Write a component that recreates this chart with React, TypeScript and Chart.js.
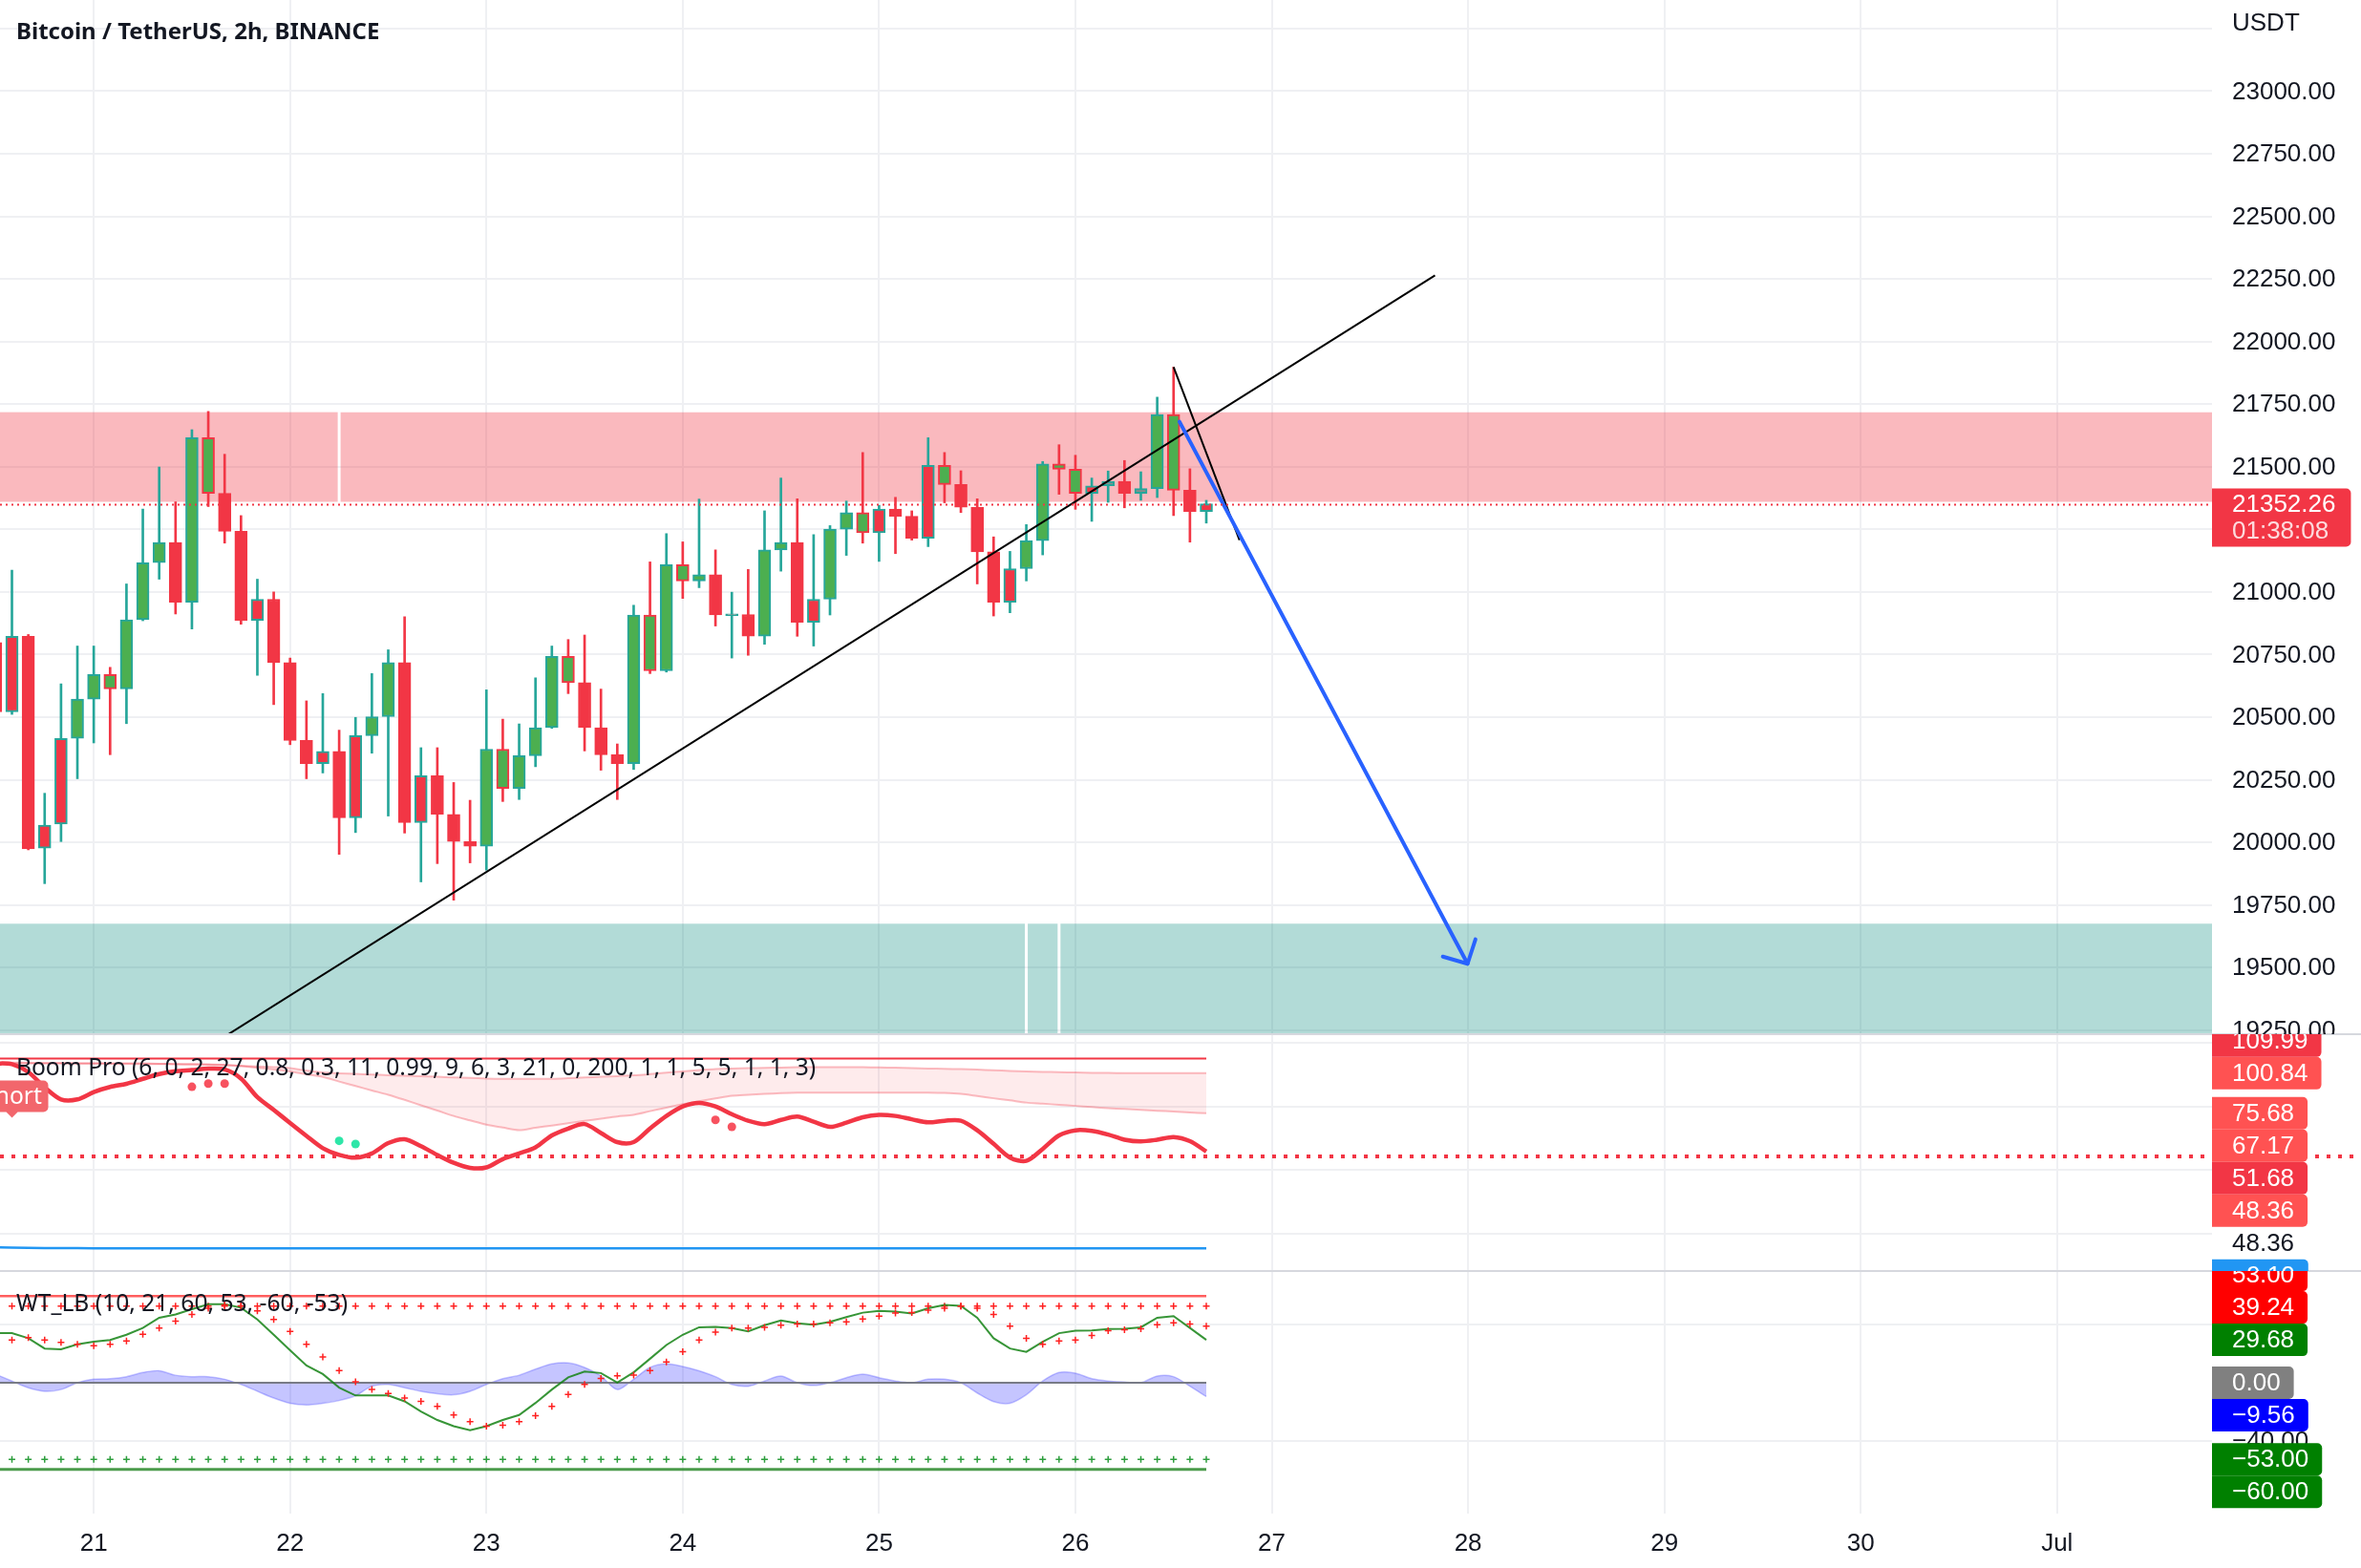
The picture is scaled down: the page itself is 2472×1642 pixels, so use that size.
import React, { useEffect, useRef } from 'react';
import { Chart, registerables } from 'chart.js';

Chart.register(...registerables);

const W = 2472;
const H = 1642;

// ---------- layout (pixels) ----------
const PLOT_RIGHT = 2316;
const PLOT_BOTTOM = 1585;
const PANE_MAIN = { top: 0, bottom: 1083 };
const PANE_BOOM = { top: 1083, bottom: 1331 };
const PANE_WT = { top: 1331, bottom: 1585 };

// ---------- data ----------
// 2h candles, index 0 = 20 Jun 12:00
const opens = [20798, 20521, 20823, 19977, 20073, 20415, 20572, 20670, 20613, 20889,
  21117, 21198, 20959, 21616, 21394, 21242, 20886, 20971, 20718, 20407,
  20314, 20363, 20098, 20426, 20502, 20718, 20079, 20266, 20112, 20003,
  19984, 20372, 20215, 20346, 20458, 20743, 20638, 20458, 20350, 20314,
  20908, 20685, 21109, 21044, 21069, 20905, 20910, 20823, 21168, 21198,
  20879, 20971, 21251, 21317, 21236, 21331, 21302, 21214, 21506, 21429,
  21338, 21160, 20959, 21093, 21205, 21511, 21490, 21394, 21424, 21442,
  21394, 21413, 21709, 21406, 21321];
const highs = [20850, 21087, 20830, 20196, 20633, 20784, 20784, 20699, 21032, 21331,
  21499, 21360, 21648, 21721, 21550, 21305, 21051, 21000, 20736, 20565,
  20594, 20448, 20499, 20674, 20769, 20901, 20378, 20378, 20239, 20168,
  20609, 20492, 20473, 20657, 20784, 20810, 20828, 20612, 20393, 20947,
  21120, 21233, 21200, 21371, 21168, 20999, 21090, 21324, 21455, 21372,
  21229, 21265, 21363, 21557, 21346, 21378, 21324, 21616, 21557, 21484,
  21372, 21220, 21162, 21269, 21521, 21588, 21546, 21455, 21483, 21525,
  21480, 21778, 21898, 21492, 21366];
const lows = [20480, 20511, 19970, 19835, 20003, 20254, 20397, 20350, 20474, 20885,
  21051, 20912, 20852, 21341, 21195, 20871, 20667, 20550, 20390, 20254,
  20277, 19952, 20039, 20356, 20105, 20037, 19842, 19915, 19769, 19918,
  19889, 20163, 20171, 20302, 20455, 20594, 20365, 20288, 20171, 20291,
  20674, 20680, 20974, 21017, 20864, 20736, 20747, 20791, 21083, 20823,
  20784, 20908, 21146, 21195, 21122, 21153, 21207, 21181, 21356, 21317,
  21032, 20904, 20917, 21044, 21148, 21390, 21330, 21282, 21358, 21336,
  21366, 21377, 21305, 21199, 21275];
const closes = [20521, 20823, 19974, 20069, 20415, 20572, 20670, 20613, 20889, 21117,
  21198, 20959, 21616, 21394, 21242, 20886, 20971, 20718, 20407, 20314,
  20363, 20098, 20426, 20502, 20718, 20079, 20266, 20112, 20003, 19984,
  20372, 20215, 20346, 20458, 20743, 20638, 20458, 20350, 20314, 20908,
  20685, 21109, 21044, 21069, 20908, 20910, 20823, 21168, 21198, 20879,
  20971, 21251, 21317, 21236, 21331, 21302, 21214, 21506, 21429, 21338,
  21160, 20959, 21093, 21205, 21511, 21490, 21394, 21424, 21442, 21394,
  21413, 21709, 21406, 21321, 21352.26];
// bar colouring from the indicator: G green, R red, N neutral
const barTone = ['R', 'R', 'R', 'R', 'R', 'G', 'G', 'G', 'G', 'G',
  'G', 'R', 'G', 'G', 'R', 'R', 'R', 'R', 'R', 'R',
  'R', 'R', 'R', 'G', 'G', 'R', 'R', 'R', 'R', 'R',
  'G', 'G', 'G', 'G', 'G', 'G', 'R', 'R', 'R', 'G',
  'G', 'G', 'G', 'G', 'R', 'N', 'R', 'G', 'G', 'R',
  'R', 'G', 'G', 'G', 'R', 'R', 'R', 'R', 'G', 'R',
  'R', 'R', 'R', 'G', 'G', 'G', 'G', 'R', 'N', 'R',
  'N', 'G', 'G', 'R', 'R'];

// Boom Pro pane
const boomOsc = [107, 106.5, 101.5, 92, 84.4, 84.4, 89, 92.2, 94.2, 97.3,
  100.3, 102.1, 102.8, 103.7, 103.2, 97.5, 85.8, 77.8, 69.6, 61.5,
  53.8, 49.6, 47.8, 50.5, 57, 59.4, 55, 49.5, 44.6, 41.4,
  41.7, 46.9, 50.5, 54.3, 61.8, 66.1, 68.9, 63.3, 57.6, 57.6,
  66.1, 74.0, 80.0, 82.2, 80.0, 75.1, 71.0, 68.9, 71.5, 73.6,
  70.4, 67.2, 69.8, 73.2, 74.7, 74.0, 71.9, 70.0, 71.0, 71.0,
  65.0, 56.5, 47.9, 45.8, 53.3, 61.8, 65.0, 64.6, 62.3, 59.1,
  58.0, 59.1, 60.8, 58.2, 51.68];
const cloudUpper = [107.5, 107.5, 107.4, 107.3, 107.3, 107.2, 107.2, 107.1, 107.1, 107.0,
  106.8, 106.6, 106.4, 106.2, 105.9, 105.5, 105.1, 104.7, 104.1, 102.5,
  101.3, 100.8, 100.4, 100.0, 99.6, 99.2, 98.9, 98.6, 98.2, 97.9,
  97.5, 97.3, 97.3, 97.3, 97.3, 97.7, 98.2, 98.6, 99.0, 99.5,
  100.3, 101.2, 102.0, 102.8, 103.5, 103.8, 104.0, 104.2, 104.4, 104.6,
  104.6, 104.6, 104.6, 104.6, 104.5, 104.3, 104.1, 103.8, 103.6, 103.4,
  103.1, 102.7, 102.3, 101.9, 101.7, 101.5, 101.3, 101.1, 101.0, 100.95,
  100.9, 100.9, 100.88, 100.86, 100.84];
const cloudLower = [107, 107, 107, 106.9, 106.9, 106.8, 106.8, 106.7, 106.7, 106.6,
  106.6, 106.5, 106.5, 106.4, 106.2, 105.3, 104.2, 103.2, 102.0, 100.1,
  98.5, 95.6, 92.8, 90.0, 87.3, 84.1, 80.7, 77.4, 74.0, 71.2,
  68.5, 66.7, 65.1, 66.6, 68.0, 69.5, 70.9, 72.3, 73.7, 74.7,
  77.0, 79.2, 81.4, 83.2, 85.0, 86.7, 87.3, 87.8, 88.3, 88.6,
  88.6, 88.6, 88.6, 88.6, 88.6, 88.6, 88.6, 88.6, 88.4, 87.8,
  86.5, 85.1, 83.8, 82.4, 81.7, 81.0, 80.3, 79.6, 78.9, 78.4,
  77.8, 77.3, 76.8, 76.2, 75.68];
const boomBlue = [-8.4, -8.6, -8.8, -8.9, -9.0, -9.0, -9.1, -9.1, -9.1, -9.1,
  -9.1, -9.1, -9.1, -9.1, -9.1, -9.1, -9.1, -9.1, -9.1, -9.1,
  -9.1, -9.1, -9.1, -9.1, -9.1, -9.1, -9.1, -9.1, -9.1, -9.1,
  -9.1, -9.1, -9.1, -9.1, -9.1, -9.1, -9.1, -9.1, -9.1, -9.1,
  -9.1, -9.1, -9.1, -9.1, -9.1, -9.1, -9.1, -9.1, -9.1, -9.1,
  -9.1, -9.1, -9.1, -9.1, -9.1, -9.1, -9.1, -9.1, -9.1, -9.1,
  -9.1, -9.1, -9.1, -9.1, -9.1, -9.1, -9.1, -9.1, -9.1, -9.1,
  -9.1, -9.1, -9.1, -9.1, -9.1];
const boomRedDotIdx = [12, 13, 14, 44, 45];
const boomRedDotVal = [92.3, 94.3, 94.3, 71.5, 67.2];
const boomTealDotIdx = [21, 22];
const boomTealDotVal = [58.4, 56.4];
const boomTopLevel = 109.99;
const boomMidLevel = 48.36;
const boomHiddenValue = 67.17;
const boomGrid = [120, 80, 40, 0];

// WT_LB pane
const wt1 = [34.3, 34.3, 30.8, 23.7, 23.2, 26.6, 28.4, 29.6, 33.2, 37.9,
  45.0, 47.3, 50.9, 54.4, 54.4, 52.0, 43.8, 33.2, 22.5, 11.9,
  6.0, -3.4, -8.8, -8.8, -8.8, -12.9, -19.9, -25.8, -30.1, -32.9,
  -30.1, -25.8, -22.3, -14.0, -4.7, 3.7, 7.7, 6.7, 0.1, 7.2,
  16.6, 26.1, 33.2, 38.4, 38.6, 37.9, 35.5, 39.8, 43.1, 41.2,
  40.2, 42.1, 45.4, 48.5, 49.7, 49.2, 48.0, 51.6, 53.9, 53.2,
  45.0, 30.8, 23.7, 21.4, 28.4, 34.3, 36.0, 36.2, 37.2, 37.4,
  38.4, 45.0, 46.1, 37.9, 29.68];
const wt2 = [29.6, 29.6, 31.3, 29.6, 28.0, 26.6, 25.6, 26.6, 28.9, 33.6,
  37.9, 42.6, 47.3, 51.6, 53.9, 53.2, 49.7, 43.8, 35.5, 26.6,
  17.8, 8.4, 0.6, -4.6, -7.4, -10.5, -12.9, -16.4, -22.3, -27.0,
  -30.1, -29.4, -27.0, -22.8, -16.4, -8.1, -1.1, 2.9, 4.8, 5.3,
  8.4, 14.3, 21.4, 29.6, 35.0, 37.9, 37.9, 38.4, 39.8, 40.7,
  40.7, 41.4, 42.1, 44.2, 46.1, 48.3, 48.5, 50.2, 51.6, 53.0,
  51.6, 47.3, 39.1, 30.8, 26.6, 28.9, 29.6, 32.7, 36.0, 36.7,
  37.4, 40.2, 41.4, 40.7, 39.24];
const wtDiff = [5.9, 1.2, -3.5, -5.9, -4.7, 0, 2.4, 2.8, 4.2, 7.1,
  8.3, 5.2, 4.2, 4.2, 2.4, -1.2, -5.9, -10.6, -14.2, -15.3,
  -14.2, -12.3, -9.0, -2.4, -1.2, -3.5, -5.9, -7.6, -8.3, -5.9,
  -1.2, 2.8, 5.2, 9.4, 13.0, 13.7, 10.6, 4.7, -4.7, 2.4,
  10.6, 13.0, 11.3, 8.3, 4.2, -1.2, -2.4, 1.2, 4.7, 0,
  -1.9, 0, 3.5, 5.9, 3.5, 1.2, 0, 2.4, 2.4, 0,
  -7.1, -13.0, -14.2, -8.3, 1.2, 7.1, 6.6, 2.8, 1.2, 0.5,
  0, 4.7, 4.2, -2.4, -9.56];
const wtLevels = [60, 53, -53, -60];
const wtGrid = [40, -40];
const wtAxisTicks = [-40];

// axes
const dayLabels = ['21', '22', '23', '24', '25', '26', '27', '28', '29', '30', 'Jul'];
const dayIndex = [6, 18, 30, 42, 54, 66, 78, 90, 102, 114, 126];
const priceTicks = [23000, 22750, 22500, 22250, 22000, 21750, 21500, 21250, 21000,
  20750, 20500, 20250, 20000, 19750, 19500, 19250];
const priceGrid = [23250, ...priceTicks];
const xRange = [0.27, 135.47];
const priceRange = [19233.7, 23364.2];
const boomRange = [-23.34, 125.34];
const wtRange = [-90.55, 77.33];

// drawings
const resistZone = { top: 21718, bottom: 21360, breaks: [21] };
const supportZone = { top: 19675, bottom: 19100, breaks: [63, 65] };
const trendLine = { k1: 14.07, p1: 19227, k2: 87.98, p2: 22264 };
const wedgeLine = { k1: 72.0, p1: 21898, k2: 76.03, p2: 21207 };
const targetArrow = { k1: 72.36, p1: 21680, k2: 89.97, p2: 19515 };
const countdown = '01:38:08';
const shortSignalIdx = 1;

// ---------- colours ----------
const TEAL = '#26a69a';
const RED = '#f23645';
const GREEN = '#4caf50';
const GRAY = '#8c8c8c';
const TEXT = '#131722';
const GRID = '#eff0f3';

const AXIS_FONT = '26px "Liberation Sans", Arial, sans-serif';
const LEGEND_FONT = '24.6px "Noto Sans", sans-serif';
const TITLE_FONT = 'bold 24px "Noto Sans", sans-serif';

function fullRange(range: number[], pane: { top: number; bottom: number }) {
  const per = (range[1] - range[0]) / (pane.bottom - pane.top);
  return { min: range[0] - (PLOT_BOTTOM - pane.bottom) * per, max: range[1] + pane.top * per };
}

function fmt(v: number) {
  const s = v.toFixed(2);
  return s.startsWith('-') ? '\u2212' + s.slice(1) : s;
}

function stackLabels(reals: number[], h: number) {
  const placed: number[] = [];
  return reals.map((r) => {
    const cands = [r];
    placed.forEach((p) => cands.push(p - h, p + h));
    let best = r;
    let bd = Infinity;
    for (const c of cands) {
      if (placed.every((p) => Math.abs(p - c) >= h - 0.01)) {
        const d = Math.abs(c - r);
        if (d < bd) { bd = d; best = c; }
      }
    }
    placed.push(best);
    return best;
  });
}

function roundRight(ctx: CanvasRenderingContext2D, x: number, y: number, w: number, h: number, r: number) {
  ctx.beginPath();
  ctx.moveTo(x, y);
  ctx.lineTo(x + w - r, y);
  ctx.arcTo(x + w, y, x + w, y + r, r);
  ctx.lineTo(x + w, y + h - r);
  ctx.arcTo(x + w, y + h, x + w - r, y + h, r);
  ctx.lineTo(x, y + h);
  ctx.closePath();
}

export default function App() {
  const ref = useRef<HTMLCanvasElement>(null);

  useEffect(() => {
    const canvas = ref.current;
    if (!canvas) return;
    const ix = closes.map((_, i) => i);
    const edge = ix.map((i) => (closes[i] >= opens[i] ? TEAL : RED));
    const fillC = barTone.map((t) => (t === 'G' ? GREEN : t === 'R' ? RED : GRAY));
    const series = (arr: number[]) => arr.map((v, i) => ({ x: i, y: v }));
    const level = (v: number) => ix.map((i) => ({ x: i, y: v }));
    const line = (extra: any) => ({ type: 'line', pointRadius: 0, borderWidth: 2, fill: false, tension: 0, ...extra });

    const yMain = fullRange(priceRange, PANE_MAIN);
    const yBoom = fullRange(boomRange, PANE_BOOM);
    const yWt = fullRange(wtRange, PANE_WT);

    const tvPlugin = {
      id: 'tvPanes',
      beforeDraw(chart: any) {
        const ctx = chart.ctx;
        ctx.save();
        ctx.fillStyle = '#ffffff';
        ctx.fillRect(0, 0, W, H);
        ctx.restore();
      },
      beforeDatasetsDraw(chart: any) {
        const ctx: CanvasRenderingContext2D = chart.ctx;
        const sx = chart.scales.x, sy = chart.scales.y, sb = chart.scales.yB, sw = chart.scales.yW;
        ctx.save();
        ctx.strokeStyle = GRID;
        ctx.lineWidth = 2;
        dayIndex.forEach((d) => {
          const x = Math.round(sx.getPixelForValue(d));
          ctx.beginPath(); ctx.moveTo(x, 0); ctx.lineTo(x, PLOT_BOTTOM); ctx.stroke();
        });
        const hline = (y: number, pane: any) => {
          if (y < pane.top || y > pane.bottom) return;
          ctx.beginPath(); ctx.moveTo(0, Math.round(y)); ctx.lineTo(PLOT_RIGHT, Math.round(y)); ctx.stroke();
        };
        priceGrid.forEach((p) => hline(sy.getPixelForValue(p), PANE_MAIN));
        boomGrid.forEach((v) => hline(sb.getPixelForValue(v), PANE_BOOM));
        wtGrid.forEach((v) => hline(sw.getPixelForValue(v), PANE_WT));

        // zones
        ctx.beginPath();
        ctx.rect(0, PANE_MAIN.top, PLOT_RIGHT, PANE_MAIN.bottom - PANE_MAIN.top);
        ctx.clip();
        const zone = (z: any, color: string) => {
          const yt = sy.getPixelForValue(z.top);
          const yb = sy.getPixelForValue(z.bottom);
          const edges = [-1e4, ...z.breaks.map((k: number) => sx.getPixelForValue(k)), 1e5];
          ctx.fillStyle = color;
          for (let i = 0; i < edges.length - 1; i++) {
            const x0 = edges[i] + (i > 0 ? 1.5 : 0);
            const x1 = edges[i + 1] - (i < edges.length - 2 ? 1.5 : 0);
            ctx.fillRect(x0, yt, x1 - x0, yb - yt);
          }
        };
        zone(resistZone, 'rgba(242,54,69,0.35)');
        zone(supportZone, 'rgba(0,137,123,0.3)');
        ctx.restore();
      },
      afterDatasetsDraw(chart: any) {
        const ctx: CanvasRenderingContext2D = chart.ctx;
        const sx = chart.scales.x, sy = chart.scales.y, sb = chart.scales.yB, sw = chart.scales.yW;
        const P = (k: number, p: number) => [sx.getPixelForValue(k), sy.getPixelForValue(p)];

        // drawings in main pane
        ctx.save();
        ctx.beginPath();
        ctx.rect(0, PANE_MAIN.top, PLOT_RIGHT, PANE_MAIN.bottom - PANE_MAIN.top);
        ctx.clip();
        ctx.strokeStyle = '#000000';
        ctx.lineWidth = 2;
        [trendLine, wedgeLine].forEach((l) => {
          const [x1, y1] = P(l.k1, l.p1);
          const [x2, y2] = P(l.k2, l.p2);
          ctx.beginPath(); ctx.moveTo(x1, y1); ctx.lineTo(x2, y2); ctx.stroke();
        });
        {
          const [x1, y1] = P(targetArrow.k1, targetArrow.p1);
          const [x2, y2] = P(targetArrow.k2, targetArrow.p2);
          ctx.strokeStyle = '#2962ff';
          ctx.lineWidth = 4;
          ctx.lineCap = 'round';
          ctx.lineJoin = 'round';
          ctx.beginPath(); ctx.moveTo(x1, y1); ctx.lineTo(x2, y2); ctx.stroke();
          const ang = Math.atan2(y2 - y1, x2 - x1);
          const L = 27, s = 0.8;
          ctx.beginPath();
          ctx.moveTo(x2 - L * Math.cos(ang - s), y2 - L * Math.sin(ang - s));
          ctx.lineTo(x2, y2);
          ctx.lineTo(x2 - L * Math.cos(ang + s), y2 - L * Math.sin(ang + s));
          ctx.stroke();
        }
        ctx.restore();

        // last price dotted line
        const last = closes[closes.length - 1];
        const yLast = Math.round(sy.getPixelForValue(last)) + 0.5;
        ctx.save();
        ctx.strokeStyle = RED;
        ctx.lineWidth = 2;
        ctx.setLineDash([2, 4]);
        ctx.beginPath(); ctx.moveTo(0, yLast); ctx.lineTo(PLOT_RIGHT, yLast); ctx.stroke();
        // boom dotted level
        const yMid = Math.round(sb.getPixelForValue(boomMidLevel));
        ctx.lineWidth = 4;
        ctx.setLineDash([4, 8]);
        ctx.beginPath(); ctx.moveTo(0, yMid); ctx.lineTo(W, yMid); ctx.stroke();
        ctx.restore();

        // pane separators
        ctx.save();
        ctx.strokeStyle = '#d6d8de';
        ctx.lineWidth = 2;
        [PANE_BOOM.top, PANE_WT.top].forEach((y) => {
          ctx.beginPath(); ctx.moveTo(0, y); ctx.lineTo(W, y); ctx.stroke();
        });
        ctx.restore();

        // legends
        ctx.save();
        ctx.fillStyle = TEXT;
        ctx.textBaseline = 'alphabetic';
        ctx.textAlign = 'left';
        ctx.font = TITLE_FONT;
        ctx.fillText('Bitcoin / TetherUS, 2h, BINANCE', 17, 41);
        ctx.font = LEGEND_FONT;
        ctx.fillText('Boom Pro (6, 0, 2, 27, 0.8, 0.3, 11, 0.99, 9, 6, 3, 21, 0, 200, 1, 1, 5, 5, 1, 1, 3)', 17, 1126);
        ctx.fillText('WT_LB (10, 21, 60, 53, -60, -53)', 17, 1373);
        ctx.restore();

        // Short signal label
        ctx.save();
        {
          const cx = sx.getPixelForValue(shortSignalIdx);
          const cy = 1148;
          ctx.fillStyle = '#f2666c';
          ctx.beginPath();
          const bw = 76, bh = 33, r = 5;
          const x0 = cx - bw / 2, y0 = cy - bh / 2;
          ctx.moveTo(x0 + r, y0);
          ctx.arcTo(x0 + bw, y0, x0 + bw, y0 + bh, r);
          ctx.arcTo(x0 + bw, y0 + bh, x0, y0 + bh, r);
          ctx.lineTo(cx + 6, y0 + bh);
          ctx.lineTo(cx, y0 + bh + 6);
          ctx.lineTo(cx - 6, y0 + bh);
          ctx.arcTo(x0, y0 + bh, x0, y0, r);
          ctx.arcTo(x0, y0, x0 + bw, y0, r);
          ctx.closePath();
          ctx.fill();
          ctx.fillStyle = '#ffffff';
          ctx.font = LEGEND_FONT;
          ctx.textAlign = 'center';
          ctx.textBaseline = 'middle';
          ctx.fillText('Short', cx, cy + 1);
        }
        ctx.restore();

        // ---- price axis ----
        const AX = PLOT_RIGHT + 21;
        ctx.save();
        ctx.font = AXIS_FONT;
        ctx.textBaseline = 'middle';
        ctx.textAlign = 'left';
        ctx.beginPath();
        ctx.rect(PLOT_RIGHT, PANE_MAIN.top, W - PLOT_RIGHT, PANE_MAIN.bottom - PANE_MAIN.top);
        ctx.clip();
        ctx.fillStyle = TEXT;
        ctx.fillText('USDT', AX, 25);
        priceTicks.forEach((p) => ctx.fillText(p.toFixed(2), AX, sy.getPixelForValue(p) + 1));
        // last price label
        {
          const t1 = last.toFixed(2);
          const w = Math.max(ctx.measureText(t1).width, ctx.measureText(countdown).width);
          const y = sy.getPixelForValue(last);
          ctx.fillStyle = RED;
          roundRight(ctx, PLOT_RIGHT, y - 16, AX + w + 16 - PLOT_RIGHT, 61, 5);
          ctx.fill();
          ctx.fillStyle = '#ffffff';
          ctx.fillText(t1, AX, y + 1);
          ctx.fillStyle = 'rgba(255,255,255,0.82)';
          ctx.fillText(countdown, AX, y + 29);
        }
        ctx.restore();

        const drawLabels = (labels: any[], scale: any, pane: any, plain: number[]) => {
          ctx.save();
          ctx.beginPath();
          ctx.rect(PLOT_RIGHT, pane.top, W - PLOT_RIGHT, pane.bottom - pane.top);
          ctx.clip();
          ctx.font = AXIS_FONT;
          ctx.textBaseline = 'middle';
          ctx.textAlign = 'left';
          ctx.fillStyle = TEXT;
          plain.forEach((v) => ctx.fillText(fmt(v), AX, scale.getPixelForValue(v) + 1));
          const ys = stackLabels(labels.map((l) => scale.getPixelForValue(l.value)), 34);
          labels.forEach((l, i) => {
            const txt = fmt(l.value);
            const tw = ctx.measureText(txt).width;
            if (l.bg) {
              ctx.fillStyle = l.bg;
              roundRight(ctx, PLOT_RIGHT, ys[i] - 17, AX + tw + 14 - PLOT_RIGHT, 34, 5);
              ctx.fill();
              ctx.fillStyle = '#ffffff';
            } else {
              ctx.fillStyle = TEXT;
            }
            ctx.fillText(txt, AX, ys[i] + 1);
          });
          ctx.restore();
        };

        drawLabels([
          { value: cloudLower[cloudLower.length - 1], bg: '#ff5252' },
          { value: boomHiddenValue, bg: '#ff5252' },
          { value: boomOsc[boomOsc.length - 1], bg: '#f23645' },
          { value: boomMidLevel, bg: '#ff5252' },
          { value: cloudUpper[cloudUpper.length - 1], bg: '#ff5252' },
          { value: boomTopLevel, bg: '#f23645' },
          { value: boomMidLevel, bg: null },
          { value: boomBlue[boomBlue.length - 1], bg: '#2196f3' },
        ], sb, PANE_BOOM, []);

        drawLabels([
          { value: wt1[wt1.length - 1], bg: '#008000' },
          { value: wt2[wt2.length - 1], bg: '#ff0000' },
          { value: wtLevels[1], bg: '#ff0000' },
          { value: 0, bg: '#808080' },
          { value: wtDiff[wtDiff.length - 1], bg: '#0000ff' },
          { value: wtLevels[2], bg: '#008000' },
          { value: wtLevels[3], bg: '#008000' },
        ], sw, PANE_WT, wtAxisTicks);

        // ---- time axis ----
        ctx.save();
        ctx.font = AXIS_FONT;
        ctx.fillStyle = TEXT;
        ctx.textAlign = 'center';
        ctx.textBaseline = 'middle';
        dayLabels.forEach((t, i) => ctx.fillText(t, sx.getPixelForValue(dayIndex[i]), 1617));
        ctx.restore();
      },
    };

    const chart = new Chart(canvas, {
      type: 'line',
      data: {
        datasets: [
          {
            type: 'bar', label: 'wicks',
            data: ix.map((i) => ({ x: i, y: [lows[i], highs[i]] })),
            backgroundColor: edge, barThickness: 2, grouped: false, order: 2,
            xAxisID: 'x', yAxisID: 'y',
          },
          {
            type: 'bar', label: 'bodies',
            data: ix.map((i) => ({ x: i, y: [opens[i], closes[i]] })),
            backgroundColor: fillC, borderColor: edge, borderWidth: 2, borderSkipped: false,
            barThickness: 13, grouped: false, minBarLength: 2, order: 1,
            xAxisID: 'x', yAxisID: 'y',
          },
          line({ label: 'cloudUpper', data: series(cloudUpper), yAxisID: 'yB', borderColor: 'rgba(242,54,69,0.32)', tension: 0.3, order: 8 }),
          line({ label: 'cloudLower', data: series(cloudLower), yAxisID: 'yB', borderColor: 'rgba(242,54,69,0.32)', tension: 0.3, order: 8,
            fill: '-1', backgroundColor: 'rgba(242,54,69,0.1)' }),
          line({ label: 'boomTop', data: level(boomTopLevel), yAxisID: 'yB', borderColor: RED, order: 7 }),
          line({ label: 'boomBlue', data: series(boomBlue), yAxisID: 'yB', borderColor: '#2196f3', borderWidth: 2.5, order: 7 }),
          line({ label: 'boomOsc', data: series(boomOsc), yAxisID: 'yB', borderColor: RED, borderWidth: 4.5, tension: 0.3, order: 5 }),
          {
            type: 'line', label: 'redDots', yAxisID: 'yB', showLine: false,
            data: boomRedDotIdx.map((k, j) => ({ x: k, y: boomRedDotVal[j] })),
            pointRadius: 4.5, pointBackgroundColor: '#f7525f', pointBorderWidth: 0, order: 4,
          },
          {
            type: 'line', label: 'tealDots', yAxisID: 'yB', showLine: false,
            data: boomTealDotIdx.map((k, j) => ({ x: k, y: boomTealDotVal[j] })),
            pointRadius: 4.5, pointBackgroundColor: '#2ee6a8', pointBorderWidth: 0, order: 4,
          },
          line({ label: 'wtDiff', data: series(wtDiff), yAxisID: 'yW', borderColor: 'rgba(60,60,255,0.3)', borderWidth: 1.5,
            fill: { value: 0 }, backgroundColor: 'rgba(40,40,255,0.27)', tension: 0.3, order: 9 }),
          line({ label: 'wtZero', data: level(0), yAxisID: 'yW', borderColor: '#787b86', order: 8 }),
          line({ label: 'wtTop', data: level(wtLevels[0]), yAxisID: 'yW', borderColor: 'rgba(255,40,40,0.75)', borderWidth: 2.5, order: 7 }),
          line({ label: 'wtBottom', data: level(wtLevels[3]), yAxisID: 'yW', borderColor: 'rgba(30,130,30,0.8)', borderWidth: 3, order: 7 }),
          {
            type: 'line', label: 'wtOB', yAxisID: 'yW', showLine: false, data: level(wtLevels[1]),
            pointStyle: 'cross', pointRadius: 3.5, pointBorderColor: '#ff2020', pointBorderWidth: 1.5, order: 6,
          },
          {
            type: 'line', label: 'wtOS', yAxisID: 'yW', showLine: false, data: level(wtLevels[2]),
            pointStyle: 'cross', pointRadius: 3.5, pointBorderColor: '#2e9e3e', pointBorderWidth: 1.5, order: 6,
          },
          line({ label: 'wt1', data: series(wt1), yAxisID: 'yW', borderColor: 'rgba(20,130,20,0.85)', borderWidth: 2, order: 5 }),
          {
            type: 'line', label: 'wt2', yAxisID: 'yW', showLine: false, data: series(wt2),
            pointStyle: 'cross', pointRadius: 3.5, pointBorderColor: '#ff2020', pointBorderWidth: 1.5, order: 4,
          },
        ],
      } as any,
      options: {
        responsive: false,
        maintainAspectRatio: false,
        animation: false,
        devicePixelRatio: 1,
        layout: { autoPadding: false, padding: { left: 0, top: 0, right: W - PLOT_RIGHT, bottom: H - PLOT_BOTTOM } },
        plugins: { legend: { display: false }, tooltip: { enabled: false } },
        events: [],
        scales: {
          x: { type: 'linear', display: false, offset: false, min: xRange[0], max: xRange[1], bounds: 'data', grid: { display: false } },
          y: { type: 'linear', display: false, min: yMain.min, max: yMain.max, bounds: 'data', beginAtZero: false, grid: { display: false } },
          yB: { type: 'linear', display: false, min: yBoom.min, max: yBoom.max, bounds: 'data', beginAtZero: false, grid: { display: false } },
          yW: { type: 'linear', display: false, min: yWt.min, max: yWt.max, bounds: 'data', beginAtZero: false, grid: { display: false } },
        },
      } as any,
      plugins: [tvPlugin],
    } as any);

    return () => chart.destroy();
  }, []);

  return (
    <div style={{ position: 'fixed', left: 0, top: 0, width: W, height: H, background: '#ffffff' }}>
      <canvas ref={ref} width={W} height={H} style={{ display: 'block', width: W, height: H }} />
    </div>
  );
}
